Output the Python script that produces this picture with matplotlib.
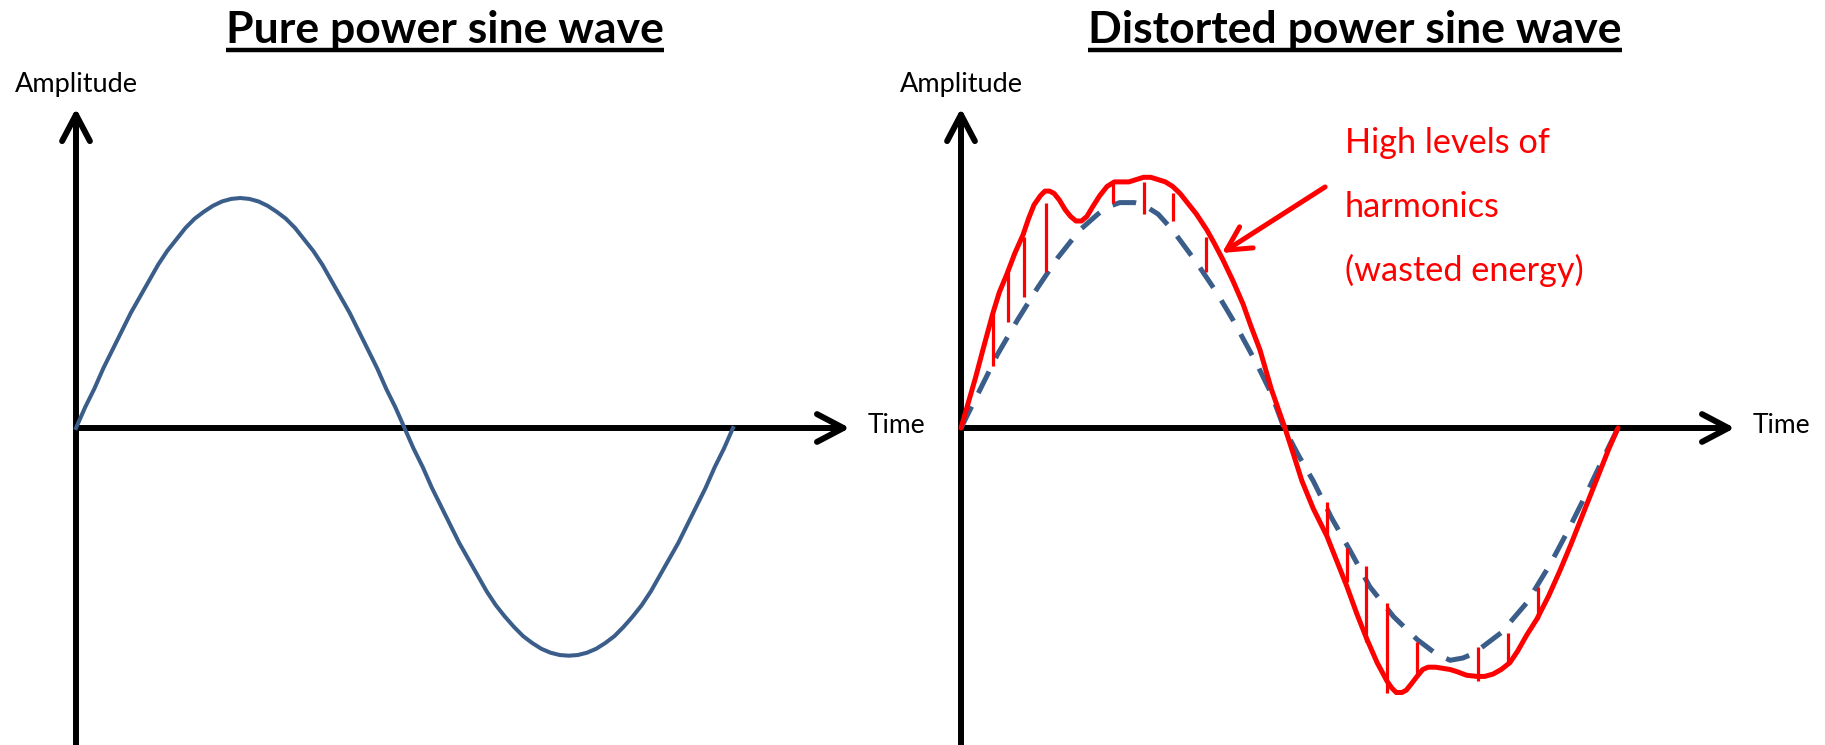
import matplotlib
matplotlib.use("Agg")
import numpy as np
from matplotlib import pyplot as plt

# phase in degrees, amplitude relative to the peak of the pure wave
pure_phase = [0, 5, 10, 15, 20, 25, 30, 35, 40, 45, 50, 55, 60, 65, 70, 75, 80, 85, 90,
              95, 100, 105, 110, 115, 120, 125, 130, 135, 140, 145, 150, 155, 160, 165, 170, 175, 180,
              185, 190, 195, 200, 205, 210, 215, 220, 225, 230, 235, 240, 245, 250, 255, 260, 265, 270,
              275, 280, 285, 290, 295, 300, 305, 310, 315, 320, 325, 330, 335, 340, 345, 350, 355, 360]
pure_amp = [0, 0.09, 0.17, 0.26, 0.34, 0.42, 0.50, 0.57, 0.64, 0.71, 0.77, 0.82, 0.87, 0.91, 0.94, 0.966, 0.985, 0.996, 1.0,
            0.996, 0.985, 0.966, 0.94, 0.91, 0.87, 0.82, 0.77, 0.71, 0.64, 0.57, 0.50, 0.42, 0.34, 0.26, 0.17, 0.09, 0,
            -0.09, -0.17, -0.26, -0.34, -0.42, -0.50, -0.57, -0.64, -0.71, -0.77, -0.82, -0.865, -0.905, -0.935, -0.96, -0.977, -0.987, -0.99,
            -0.987, -0.977, -0.96, -0.935, -0.905, -0.865, -0.82, -0.77, -0.71, -0.64, -0.57, -0.50, -0.42, -0.34, -0.26, -0.17, -0.09, 0]

dashed_phase = [0, 10, 20, 31, 42, 53, 65, 75, 80, 87, 95, 100, 108, 116, 129, 140, 149, 162, 170, 177,
                185, 193, 203, 213, 224, 237, 250, 260, 268, 275, 281, 296, 310, 323, 333, 343, 352, 360]
dashed_amp = [0, 0.16, 0.32, 0.47, 0.61, 0.74, 0.86, 0.93, 0.96, 0.98, 0.98, 0.97, 0.93, 0.86, 0.72, 0.59, 0.47, 0.28, 0.15, 0,
              -0.12, -0.23, -0.39, -0.53, -0.69, -0.82, -0.92, -0.98, -1.01, -1.0, -0.98, -0.89, -0.76, -0.59, -0.44, -0.28, -0.13, 0]

red_phase = [0, 4, 8, 12, 17.5, 21, 25.2, 29.5, 34, 37, 40, 43.5, 46, 48.5, 51, 54, 57, 60, 63, 66,
             69, 72, 76, 80, 84, 88, 92, 96, 100, 104, 108, 112, 116, 120, 124, 129, 134.8, 139,
             143.6, 149, 154.5, 159, 163.8, 170, 177.5, 182, 186.8, 193, 200.5, 206, 211.5, 217, 222.5,
             228, 233.4, 236, 238.5, 241.6, 244, 247, 249.9, 253, 256, 260, 264, 268, 272, 277, 282.7,
             287, 291.5, 296, 300.8, 305, 310, 315.6, 322, 328.2, 334, 340, 345, 350, 355, 360]
red_amp = [0, 0.11, 0.22, 0.34, 0.50, 0.59, 0.67, 0.76, 0.84, 0.91, 0.97, 1.01, 1.03, 1.03, 1.02, 0.99, 0.95, 0.92, 0.90, 0.90,
           0.92, 0.96, 1.01, 1.05, 1.07, 1.07, 1.07, 1.08, 1.09, 1.09, 1.08, 1.07, 1.05, 1.02, 0.98, 0.93, 0.86, 0.80,
           0.73, 0.64, 0.54, 0.44, 0.34, 0.17, 0, -0.11, -0.23, -0.35, -0.47, -0.58, -0.69, -0.81, -0.92,
           -1.02, -1.10, -1.13, -1.15, -1.15, -1.14, -1.11, -1.08, -1.05, -1.04, -1.04, -1.045, -1.05, -1.06, -1.075, -1.08,
           -1.08, -1.07, -1.05, -1.02, -0.97, -0.90, -0.83, -0.73, -0.62, -0.51, -0.39, -0.29, -0.19, -0.09, 0]

hatch_phase = [17.5, 25.8, 34.5, 46.6, 83.3, 100.3, 116.2, 134.2,
               200.5, 211.5, 221.9, 233.4, 249.9, 283.3, 299.7, 316.2]
hatch_top = [0.50, 0.68, 0.83, 0.98, 1.07, 1.07, 1.02, 0.83,
             -0.32, -0.52, -0.60, -0.76, -0.93, -0.95, -0.89, -0.69]
hatch_bottom = [0.27, 0.46, 0.57, 0.68, 0.98, 0.93, 0.90, 0.68,
                -0.47, -0.67, -0.93, -1.15, -1.08, -1.10, -1.03, -0.83]

titles = ["Pure power sine wave", "Distorted power sine wave"]
note_lines = ["High levels of", "harmonics", "(wasted energy)"]

W, H = 1825, 745
PX_T = 1.825   # pixels per degree
PX_A = 230.0   # pixels per unit amplitude
ORIGIN_Y = 428

BLUE = "#3A5D8A"
RED = "#FF0000"
FONT = "Lato"

fig = plt.figure(figsize=(W / 100, H / 100), dpi=100)
fig.patch.set_facecolor("white")


def panel(left, right, origin_x):
    ax = fig.add_axes([left / W, 0, (right - left) / W, 1])
    ax.set_xlim((left - origin_x) / PX_T, (right - origin_x) / PX_T)
    ax.set_ylim((ORIGIN_Y - H) / PX_A, ORIGIN_Y / PX_A)
    ax.axis("off")
    return ax


def draw_axes(ax):
    arrow = dict(arrowstyle="->, head_length=0.95, head_width=0.5", lw=4.3, color="black",
                 shrinkA=0, shrinkB=0, mutation_scale=20, capstyle="round")
    ax.annotate("", xy=(424, 0), xytext=(0, 0), arrowprops=arrow)
    ax.annotate("", xy=(0, 1.39), xytext=(0, -1.45), arrowprops=arrow, annotation_clip=False)
    ax.text(0, 1.495, "Amplitude", ha="center", va="center", fontsize=19.5, family=FONT)
    ax.text(434, 0.01, "Time", ha="left", va="center", fontsize=19, family=FONT)


def underlined_title(ax, x, text):
    t = ax.text(x, 1.73, text, ha="center", va="center", fontsize=32, fontweight="bold", family=FONT)
    fig.canvas.draw()
    bb = t.get_window_extent().transformed(ax.transData.inverted())
    ax.plot([bb.x0, bb.x1], [1.643, 1.643], color="black", lw=3.2, solid_capstyle="butt", clip_on=False)


ax1 = panel(0, 912, 76)
ax2 = panel(912, W, 961)

draw_axes(ax1)
ax1.plot(pure_phase, pure_amp, color=BLUE, lw=2.9, solid_joinstyle="round", zorder=3)
underlined_title(ax1, 202, titles[0])

draw_axes(ax2)
ax2.plot(dashed_phase, dashed_amp, color=BLUE, lw=3.6, linestyle=(0, (4.8, 3.0)), zorder=3)
ax2.plot(red_phase, red_amp, color=RED, lw=3.6, solid_joinstyle="round", solid_capstyle="round", zorder=4)
ax2.vlines(hatch_phase, hatch_bottom, hatch_top, color=RED, lw=2.3, zorder=4)
underlined_title(ax2, 216, titles[1])

for amp, line in zip([1.239, 0.961, 0.687], note_lines):
    ax2.text(210.4, amp, line, ha="left", va="center", fontsize=24.7, color=RED, family=FONT)
ax2.annotate("", xy=(143.0, 0.761), xytext=(199.5, 1.048),
             arrowprops=dict(arrowstyle="->, head_length=0.85, head_width=0.45", lw=3.6, color=RED,
                             shrinkA=0, shrinkB=0, mutation_scale=20, capstyle="round"))

fig.savefig("out.png", dpi=100, facecolor="white")
